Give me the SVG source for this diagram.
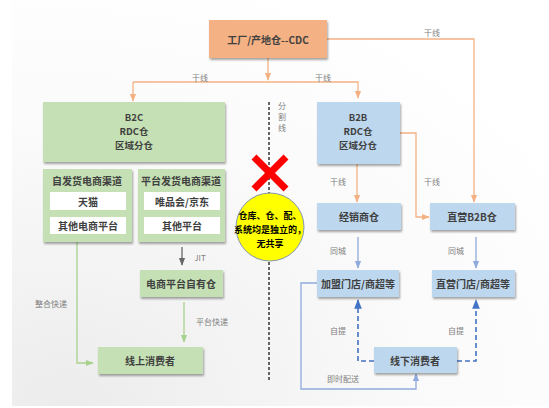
<svg xmlns="http://www.w3.org/2000/svg" width="549" height="408" viewBox="0 0 549 408">
<defs>
<radialGradient id="bg" cx="0.1" cy="1" r="1.1">
<stop offset="0" stop-color="#ececec"/>
<stop offset="0.6" stop-color="#fafafa"/>
<stop offset="1" stop-color="#ffffff"/>
</radialGradient>
<filter id="sh" x="-10%" y="-10%" width="130%" height="140%">
<feDropShadow dx="1" dy="2" stdDeviation="1.2" flood-color="#000" flood-opacity="0.35"/>
</filter>
<marker id="ao" viewBox="0 0 10 10" refX="9" refY="5" markerWidth="6" markerHeight="6" orient="auto"><path d="M0,1 L10,5 L0,9 z" fill="#f4b183"/></marker>
<marker id="ag" viewBox="0 0 10 10" refX="9" refY="5" markerWidth="6" markerHeight="6" orient="auto"><path d="M0,1 L10,5 L0,9 z" fill="#a9d18e"/></marker>
<marker id="ak" viewBox="0 0 10 10" refX="9" refY="5" markerWidth="6" markerHeight="6" orient="auto"><path d="M0,1 L10,5 L0,9 z" fill="#666"/></marker>
<marker id="ab" viewBox="0 0 10 10" refX="9" refY="5" markerWidth="6" markerHeight="6" orient="auto"><path d="M0,1 L10,5 L0,9 z" fill="#8faadc"/></marker>
<marker id="ad" viewBox="0 0 10 10" refX="9" refY="5" markerWidth="6" markerHeight="6" orient="auto"><path d="M0,1 L10,5 L0,9 z" fill="#4472c4"/></marker>
</defs>
<style>
text{font-family:"Noto Sans CJK SC","Liberation Sans",sans-serif;text-anchor:middle;dominant-baseline:central}
.t{font-size:10px;font-weight:bold;fill:#404040}
.m{font-size:9.5px;font-weight:bold;fill:#404040}
.l{font-size:8px;fill:#7f7f7f}
.c{font-size:9px;font-weight:bold;fill:#000}
.o{fill:#f4b183}
.g{fill:#c5e0b4}
.b{fill:#bdd7ee}
.w{fill:#fff}
.lo{fill:none;stroke:#f4b183;stroke-width:1.3}
.lg{fill:none;stroke:#a9d18e;stroke-width:1.3}
.lb{fill:none;stroke:#8faadc;stroke-width:1.3}
.ld{fill:none;stroke:#4472c4;stroke-width:1.6;stroke-dasharray:5,3}
</style>
<rect x="12" y="0" width="537" height="406" fill="url(#bg)"/>

<g id="connectors">
<path class="lo" d="M268,58 V80" marker-end="url(#ao)"/>
<path class="lo" d="M133,82 H358 V98" marker-end="url(#ao)"/>
<path class="lo" d="M133,82 V101" marker-end="url(#ao)"/>
<path class="lo" d="M327,39 H474 V202" marker-end="url(#ao)"/>
<path class="lo" d="M357,164 V202" marker-end="url(#ao)"/>
<path class="lo" d="M400,133 H416 V217 H429" marker-end="url(#ao)"/>
<path d="M182,247 V265" fill="none" stroke="#666" stroke-width="1.3" marker-end="url(#ak)"/>
<path class="lg" d="M184,302 V342" marker-end="url(#ag)"/>
<path class="lg" d="M77,242 V363 H93" marker-end="url(#ag)"/>
<path class="lb" d="M358,237 V268" marker-end="url(#ab)"/>
<path class="lb" d="M476,237 V268" marker-end="url(#ab)"/>
<path class="lb" d="M317,283 H301 V389 H416 V374" marker-end="url(#ab)"/>
<path class="ld" d="M374,361 H358 V300" marker-end="url(#ad)"/>
<path class="ld" d="M457,361 H476 V300" marker-end="url(#ad)"/>
<path d="M269,102 V380" fill="none" stroke="#404040" stroke-width="1.6" stroke-dasharray="3,2"/>
</g>

<g id="labels">
<text class="l" x="200" y="77">干线</text>
<text class="l" x="323" y="77">干线</text>
<text class="l" x="432" y="32">干线</text>
<text class="l" x="338" y="181">干线</text>
<text class="l" x="432" y="181">干线</text>
<text class="l" x="338" y="250">同城</text>
<text class="l" x="456" y="250">同城</text>
<text class="l" x="338" y="330">自提</text>
<text class="l" x="456" y="330">自提</text>
<text class="l" x="343" y="378">即时配送</text>
<text class="l" x="200" y="257">JIT</text>
<text class="l" x="212" y="321">平台快递</text>
<text class="l" x="51" y="303">整合快递</text>
<text class="l" x="282" y="105">分</text>
<text class="l" x="282" y="116">割</text>
<text class="l" x="282" y="127">线</text>
</g>

<g id="cdc"><rect class="o" x="209" y="20" width="118" height="38" filter="url(#sh)"/><text class="t" x="268" y="39">工厂/产地仓--CDC</text></g>

<g id="b2c"><rect class="g" x="43" y="102" width="182" height="60" filter="url(#sh)"/>
<text class="m" x="134" y="117">B2C</text><text class="m" x="134" y="131">RDC仓</text><text class="m" x="134" y="145">区域分仓</text></g>

<g id="self-channel"><rect class="g" x="43" y="169" width="89" height="73" filter="url(#sh)"/>
<text class="t" x="87" y="180">自发货电商渠道</text>
<rect class="w" x="50" y="192" width="76" height="18"/><text class="t" x="88" y="201">天猫</text>
<rect class="w" x="50" y="217" width="76" height="17"/><text class="t" x="88" y="225.5">其他电商平台</text></g>

<g id="platform-channel"><rect class="g" x="138" y="169" width="87" height="73" filter="url(#sh)"/>
<text class="t" x="181" y="180">平台发货电商渠道</text>
<rect class="w" x="144" y="192" width="76" height="18"/><text class="t" x="182" y="201">唯品会/京东</text>
<rect class="w" x="144" y="217" width="76" height="17"/><text class="t" x="182" y="225.5">其他平台</text></g>

<g id="platform-wh"><rect class="g" x="140" y="270" width="83" height="27" filter="url(#sh)"/><text class="t" x="181" y="283.5">电商平台自有仓</text></g>

<g id="online"><rect class="g" x="98" y="347" width="105" height="27" filter="url(#sh)"/><text class="t" x="150" y="360.5">线上消费者</text></g>

<g id="nonshare">
<path d="M254,157 L286,189 M286,157 L254,189" stroke="#ff0000" stroke-width="7"/>
<circle cx="270" cy="227" r="34" fill="#ffff00" stroke="#8497b0" stroke-width="1"/>
<text class="c" x="270" y="215">仓库、仓、配、</text>
<text class="c" x="270" y="229">系统均是独立的，</text>
<text class="c" x="270" y="243">无共享</text>
</g>

<g id="b2b"><rect class="b" x="317" y="102" width="83" height="62" filter="url(#sh)"/>
<text class="m" x="358" y="117">B2B</text><text class="m" x="358" y="131">RDC仓</text><text class="m" x="358" y="145">区域分仓</text></g>

<g id="dealer"><rect class="b" x="317" y="203" width="84" height="27" filter="url(#sh)"/><text class="t" x="359" y="216.5">经销商仓</text></g>
<g id="direct-b2b"><rect class="b" x="430" y="203" width="85" height="27" filter="url(#sh)"/><text class="t" x="472" y="216.5">直营B2B仓</text></g>
<g id="franchise"><rect class="b" x="317" y="270" width="82" height="27" filter="url(#sh)"/><text class="t" x="358" y="283.5">加盟门店/商超等</text></g>
<g id="direct-store"><rect class="b" x="432" y="270" width="83" height="27" filter="url(#sh)"/><text class="t" x="473" y="283.5">直营门店/商超等</text></g>
<g id="offline"><rect class="b" x="374" y="347" width="83" height="26" filter="url(#sh)"/><text class="t" x="415" y="360">线下消费者</text></g>
</svg>
